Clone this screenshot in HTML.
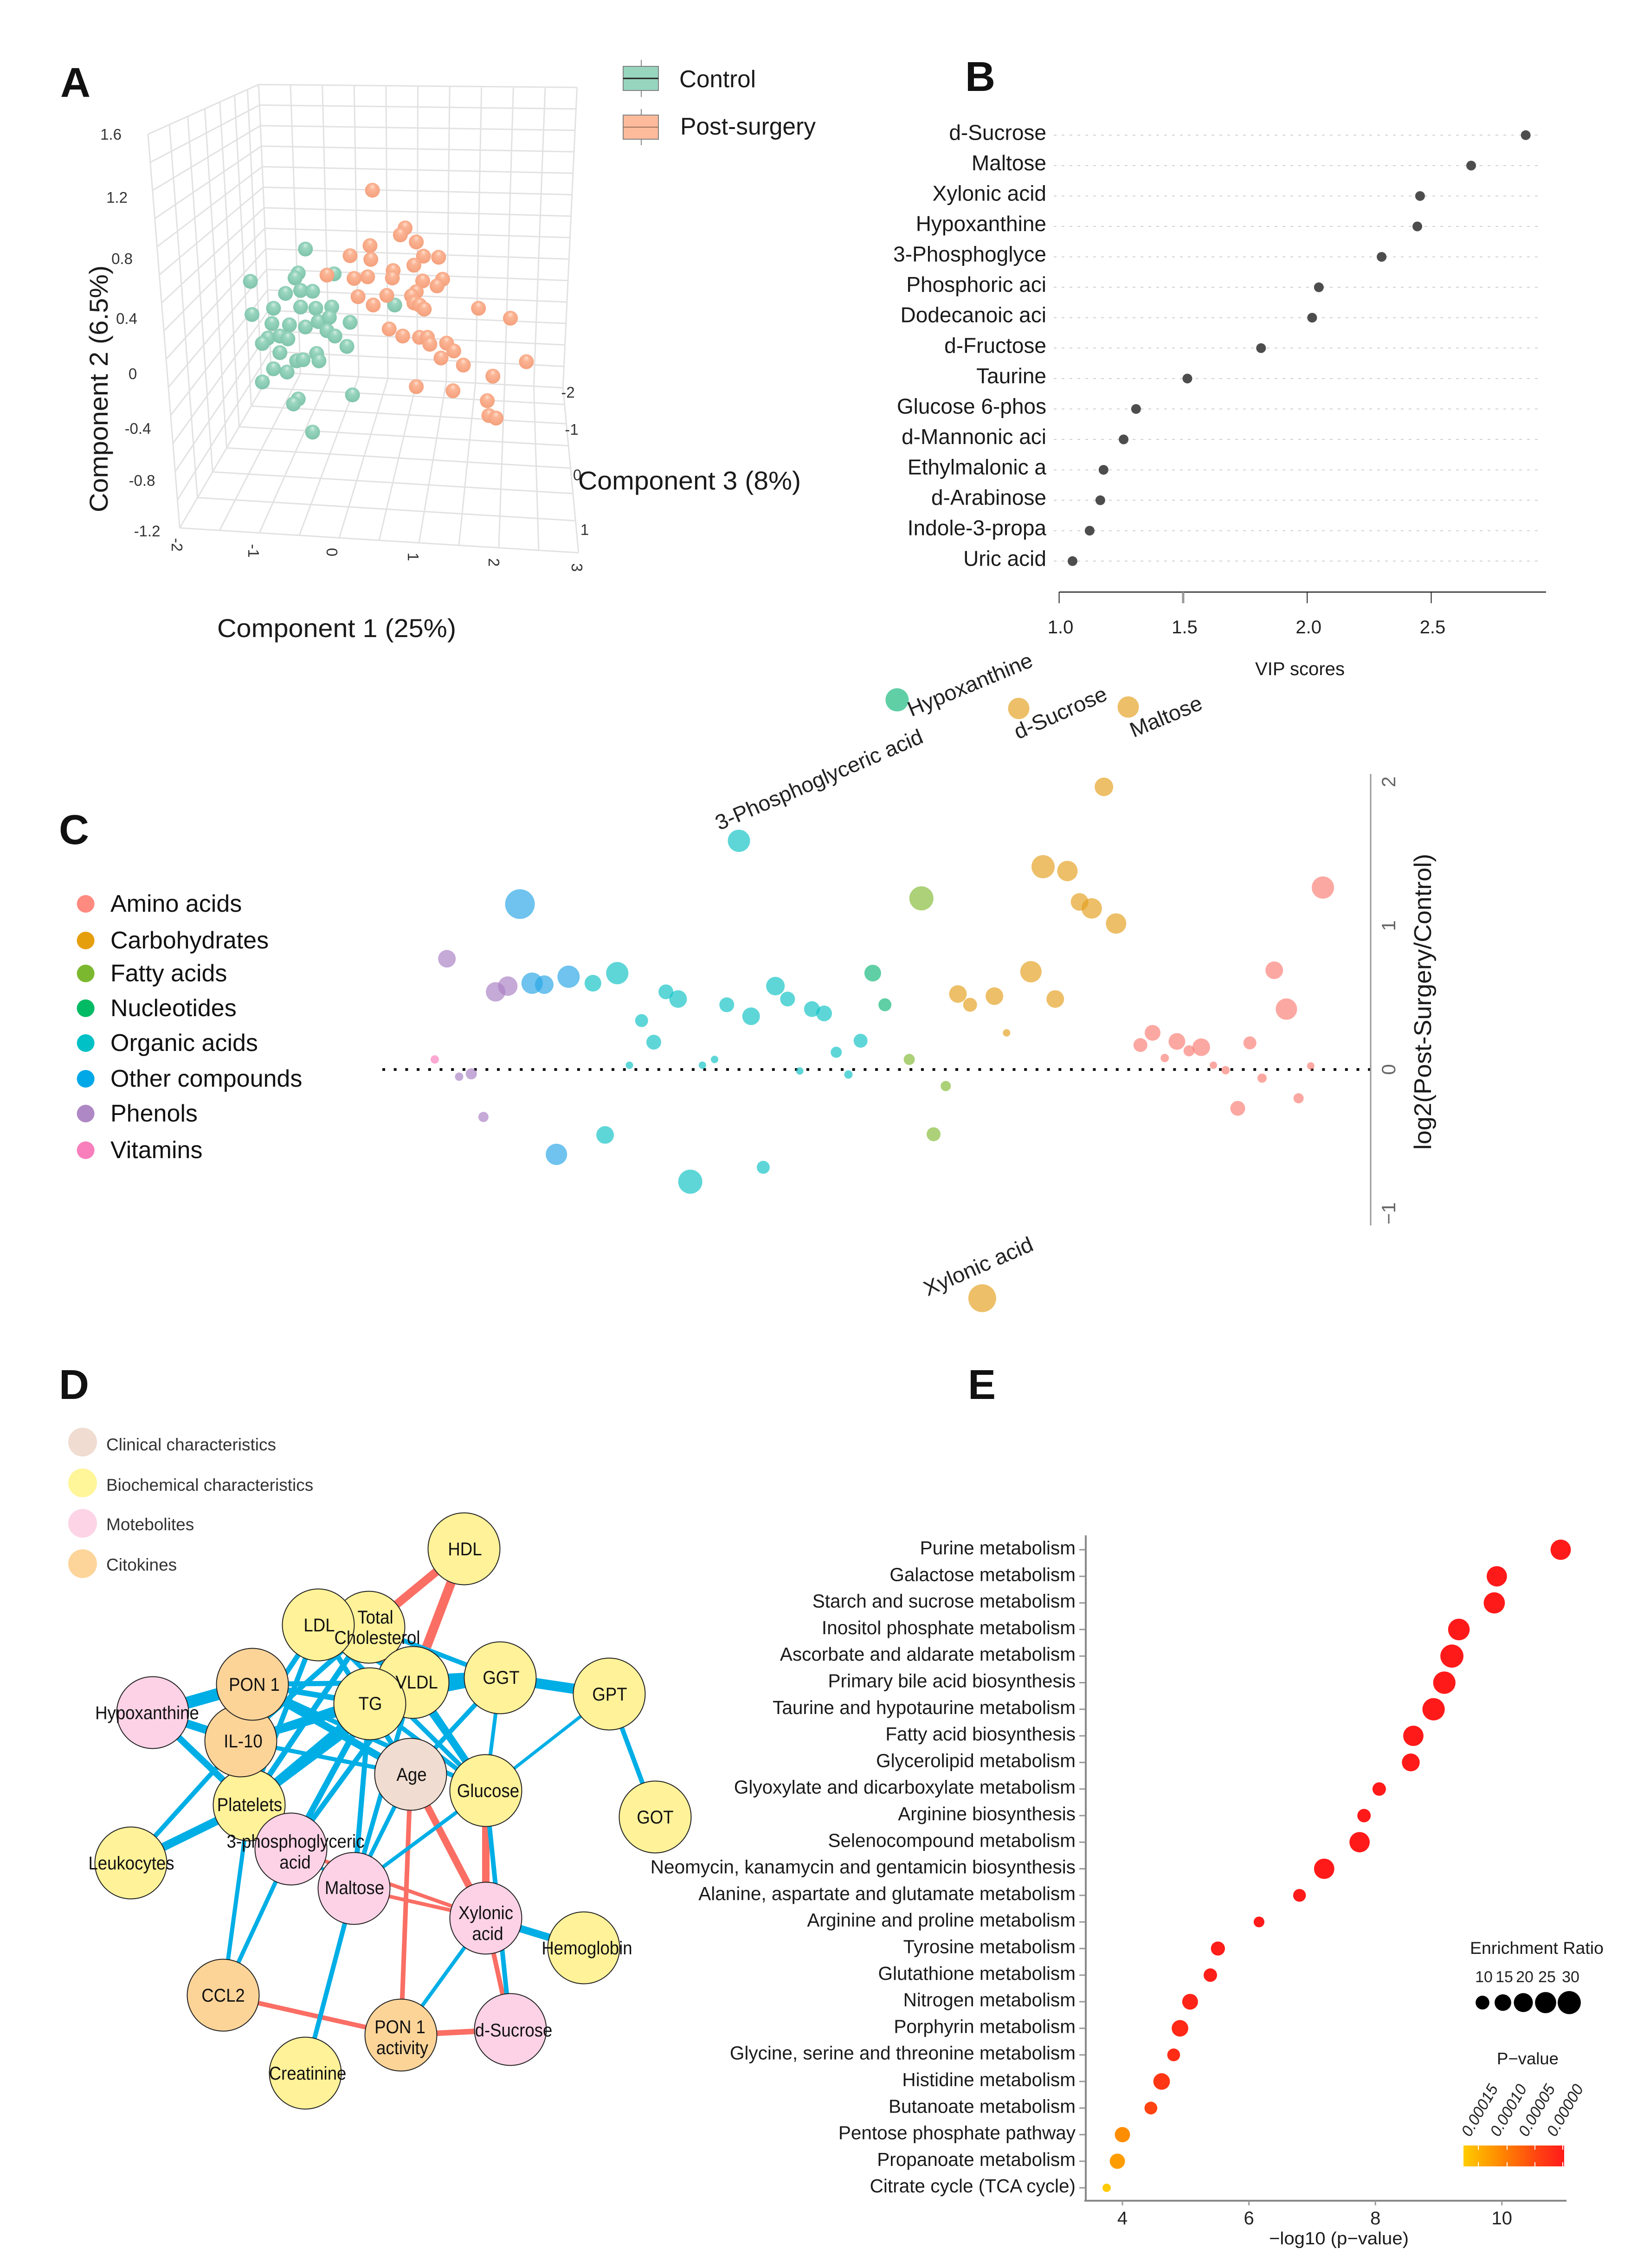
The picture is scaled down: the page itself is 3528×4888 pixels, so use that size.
<!DOCTYPE html>
<html lang="en">
<head>
<meta charset="utf-8">
<title>Metabolomics figure panels A-E</title>
<style>
html,body{margin:0;padding:0;background:#fff;}
svg{display:block;font-family:"Liberation Sans",sans-serif;fill:#1a1a1a;}
.pl{font-size:90px;font-weight:bold;fill:#111;}
.tk{font-size:33px;fill:#333;}
.nl{font-size:40px;text-anchor:middle;fill:#111;}
.node{stroke:#222;stroke-width:2;}
</style>
</head>
<body>
<svg id="fig" xmlns="http://www.w3.org/2000/svg" width="3528" height="4888" viewBox="0 0 3528 4888">
<defs>
<radialGradient id="sg" cx="50%" cy="48%" r="62%" fx="50%" fy="22%"><stop offset="0" stop-color="#d5eee3"/><stop offset=".3" stop-color="#9ad6c0"/><stop offset=".8" stop-color="#82c6ae"/><stop offset="1" stop-color="#75bba3"/></radialGradient>
<radialGradient id="so" cx="50%" cy="48%" r="62%" fx="50%" fy="22%"><stop offset="0" stop-color="#ffe0cf"/><stop offset=".3" stop-color="#fbb595"/><stop offset=".8" stop-color="#f6a380"/><stop offset="1" stop-color="#f09a74"/></radialGradient>
<linearGradient id="pbar" x1="0" x2="1" y1="0" y2="0"><stop offset="0" stop-color="#ffcc00"/><stop offset=".35" stop-color="#ff8c00"/><stop offset=".75" stop-color="#ff4112"/><stop offset="1" stop-color="#ff1a1a"/></linearGradient>
</defs>
<rect width="3528" height="4888" fill="#fff"/>

<!-- Panel A -->
<text class="pl" x="130" y="209">A</text>
<path id="grid3d" fill="none" stroke="#e2e2e2" stroke-width="3"/>
<g id="pcaPoints"></g>
<g>
<text class="tk" text-anchor="middle" x="239" y="301">1.6</text><text class="tk" text-anchor="middle" x="252" y="437">1.2</text><text class="tk" text-anchor="middle" x="263" y="569">0.8</text><text class="tk" text-anchor="middle" x="273" y="698">0.4</text><text class="tk" text-anchor="middle" x="286" y="817">0</text><text class="tk" text-anchor="middle" x="297" y="935">-0.4</text><text class="tk" text-anchor="middle" x="306" y="1047">-0.8</text><text class="tk" text-anchor="middle" x="317" y="1156">-1.2</text>
<text class="tk" text-anchor="middle" x="1224" y="857">-2</text><text class="tk" text-anchor="middle" x="1232" y="937">-1</text><text class="tk" text-anchor="middle" x="1244" y="1035">0</text><text class="tk" text-anchor="middle" x="1260" y="1153">1</text>
<text class="tk" text-anchor="middle" dy="12" transform="translate(382,1174) rotate(90)">-2</text><text class="tk" text-anchor="middle" dy="12" transform="translate(547,1187) rotate(90)">-1</text><text class="tk" text-anchor="middle" dy="12" transform="translate(716,1190) rotate(90)">0</text><text class="tk" text-anchor="middle" dy="12" transform="translate(891,1200) rotate(90)">1</text><text class="tk" text-anchor="middle" dy="12" transform="translate(1065,1212) rotate(90)">2</text><text class="tk" text-anchor="middle" dy="12" transform="translate(1244,1223) rotate(90)">3</text>
</g>
<text x="468" y="1373" font-size="56" textLength="515" lengthAdjust="spacingAndGlyphs">Component 1 (25%)</text>
<text x="1246" y="1055" font-size="56" textLength="480" lengthAdjust="spacingAndGlyphs">Component 3 (8%)</text>
<text transform="translate(232,1104) rotate(-90)" font-size="56" textLength="532" lengthAdjust="spacingAndGlyphs">Component 2 (6.5%)</text>
<g>
<line x1="1382" x2="1382" y1="129" y2="209" stroke="#888" stroke-width="2"/>
<rect x="1343" y="143" width="76" height="52" fill="#97d5be" stroke="#808080" stroke-width="2"/>
<line x1="1343" x2="1419" y1="169" y2="169" stroke="#222" stroke-width="3"/>
<text x="1464" y="188" font-size="52" textLength="165" lengthAdjust="spacingAndGlyphs">Control</text>
</g>
<g>
<line x1="1382" x2="1382" y1="235" y2="313" stroke="#888" stroke-width="2"/>
<rect x="1343" y="248" width="76" height="52" fill="#fdbb9c" stroke="#808080" stroke-width="2"/>
<line x1="1343" x2="1419" y1="274" y2="274" stroke="#9a6f5a" stroke-width="2"/>
<text x="1466" y="290" font-size="52" textLength="292" lengthAdjust="spacingAndGlyphs">Post-surgery</text>
</g>

<!-- Panel B -->
<text class="pl" x="2080" y="196">B</text>
<g id="vipRows"></g>
<line x1="2282.6" x2="3332" y1="1276" y2="1276" stroke="#222" stroke-width="2.5"/>
<g id="vipTicks"></g>
<text x="2705" y="1455" font-size="40" textLength="193" lengthAdjust="spacingAndGlyphs">VIP scores</text>

<!-- Panel C -->
<text class="pl" x="127" y="1819">C</text>
<g id="classLegend"></g>
<line x1="824" x2="2954" y1="2305" y2="2305" stroke="#111" stroke-width="6" stroke-dasharray="6 18.7"/>
<g id="bubbles"></g>
<line x1="2954" x2="2954" y1="1668" y2="2641" stroke="#999" stroke-width="3"/>
<g id="log2Ticks"></g>
<text transform="translate(3084,2478) rotate(-90)" font-size="52" textLength="638" lengthAdjust="spacingAndGlyphs">log2(Post-Surgery/Control)</text>
<g font-size="46" fill="#222">
<text transform="translate(1964,1545) rotate(-22.5)" textLength="287" lengthAdjust="spacingAndGlyphs">Hypoxanthine</text>
<text transform="translate(1550,1790) rotate(-23.3)" textLength="482" lengthAdjust="spacingAndGlyphs">3-Phosphoglyceric acid</text>
<text transform="translate(2194,1594) rotate(-24)" textLength="214" lengthAdjust="spacingAndGlyphs">d-Sucrose</text>
<text transform="translate(2443,1590) rotate(-22.5)" textLength="164" lengthAdjust="spacingAndGlyphs">Maltose</text>
<text transform="translate(1999,2794) rotate(-23.5)" textLength="252" lengthAdjust="spacingAndGlyphs">Xylonic acid</text>
</g>

<!-- Panel D -->
<text class="pl" x="127" y="3015">D</text>
<g font-size="37" fill="#333">
<circle cx="178" cy="3108" r="31" fill="#f0dcd0"/><text x="229" y="3126">Clinical characteristics</text>
<circle cx="178" cy="3196" r="31" fill="#fff599"/><text x="229" y="3213">Biochemical characteristics</text>
<circle cx="178" cy="3283" r="31" fill="#fdd4e6"/><text x="229" y="3298">Motebolites</text>
<circle cx="178" cy="3370" r="31" fill="#fdd49a"/><text x="229" y="3385">Citokines</text>
</g>
<g id="edges"></g>
<g id="nodes">
<circle class="node" id="HDL" cx="1000" cy="3338" r="77.5" fill="#fff299"/>
<circle class="node" id="Total" cx="795" cy="3507" r="77.5" fill="#fff299"/>
<circle class="node" id="LDL" cx="686" cy="3502" r="77.5" fill="#fff299"/>
<circle class="node" id="VLDL" cx="890" cy="3626" r="77.5" fill="#fff299"/>
<circle class="node" id="TG" cx="797" cy="3672" r="77.5" fill="#fff299"/>
<circle class="node" id="GGT" cx="1078" cy="3616" r="77.5" fill="#fff299"/>
<circle class="node" id="GPT" cx="1313" cy="3651" r="77.5" fill="#fff299"/>
<circle class="node" id="GOT" cx="1412" cy="3916" r="77.5" fill="#fff299"/>
<circle class="node" id="Glucose" cx="1047" cy="3859" r="77.5" fill="#fff299"/>
<circle class="node" id="Age" cx="885" cy="3824" r="77.5" fill="#f0dcd0"/>
<circle class="node" id="Leuko" cx="282" cy="4015" r="77.5" fill="#fff299"/>
<circle class="node" id="Hypox" cx="329" cy="3691" r="77.5" fill="#fdd2e6"/>
<circle class="node" id="Plate" cx="537" cy="3890" r="77.5" fill="#fff299"/>
<circle class="node" id="IL10" cx="519" cy="3752" r="77.5" fill="#fdd498"/>
<circle class="node" id="PON1" cx="544" cy="3630" r="77.5" fill="#fdd498"/>
<circle class="node" id="PGA" cx="627" cy="3985" r="77.5" fill="#fdd2e6"/>
<circle class="node" id="Malt" cx="763" cy="4070" r="77.5" fill="#fdd2e6"/>
<circle class="node" id="Xyl" cx="1047" cy="4134" r="77.5" fill="#fdd2e6"/>
<circle class="node" id="Hemo" cx="1258" cy="4198" r="77.5" fill="#fff299"/>
<circle class="node" id="CCL2" cx="481" cy="4300" r="77.5" fill="#fdd498"/>
<circle class="node" id="PONa" cx="864" cy="4386" r="77.5" fill="#fdd498"/>
<circle class="node" id="Sucr" cx="1100" cy="4374" r="77.5" fill="#fdd2e6"/>
<circle class="node" id="Creat" cx="658" cy="4468" r="77.5" fill="#fff299"/>
</g>
<g>
<text class="nl" x="1002" y="3352">HDL</text><text class="nl" x="688" y="3516">LDL</text><text class="nl" x="809" y="3499">Total</text><text class="nl" x="813" y="3543">Cholesterol</text><text class="nl" x="898" y="3639">VLDL</text><text class="nl" x="798" y="3685">TG</text><text class="nl" x="1080" y="3629">GGT</text><text class="nl" x="1314" y="3665">GPT</text><text class="nl" x="548" y="3644">PON 1</text><text class="nl" x="317" y="3705">Hypoxanthine</text><text class="nl" x="524" y="3766">IL-10</text><text class="nl" x="887" y="3838">Age</text><text class="nl" x="1052" y="3873">Glucose</text><text class="nl" x="1412" y="3930">GOT</text><text class="nl" x="538" y="3903">Platelets</text><text class="nl" x="283" y="4029">Leukocytes</text><text class="nl" x="637" y="3982">3-phosphoglyceric</text><text class="nl" x="636" y="4027">acid</text><text class="nl" x="764" y="4082">Maltose</text><text class="nl" x="1047" y="4136">Xylonic</text><text class="nl" x="1051" y="4181">acid</text><text class="nl" x="1265" y="4212">Hemoglobin</text><text class="nl" x="481" y="4314">CCL2</text><text class="nl" x="862" y="4382">PON 1</text><text class="nl" x="867" y="4427">activity</text><text class="nl" x="1107" y="4389">d-Sucrose</text><text class="nl" x="663" y="4482">Creatinine</text>
</g>

<!-- Panel E -->
<text class="pl" x="2086" y="3015">E</text>
<g id="pathways"></g>
<line x1="2340" x2="2340" y1="3309" y2="4743" stroke="#888" stroke-width="4"/>
<line x1="2337" x2="3376" y1="4743" y2="4743" stroke="#888" stroke-width="4"/>
<g id="pathTicks"></g>
<text x="2735" y="4837" font-size="38" textLength="301" lengthAdjust="spacingAndGlyphs">−log10 (p−value)</text>
<text x="3168" y="4211" font-size="37" textLength="288" lengthAdjust="spacingAndGlyphs">Enrichment Ratio</text>
<g id="sizeLegend"></g>
<text x="3226" y="4449" font-size="36" textLength="133" lengthAdjust="spacingAndGlyphs">P−value</text>
<g font-size="34" font-style="italic" fill="#222">
<text transform="translate(3168,4607) rotate(-60)">0.00015</text>
<text transform="translate(3230,4607) rotate(-60)">0.00010</text>
<text transform="translate(3291,4607) rotate(-60)">0.00005</text>
<text transform="translate(3352,4607) rotate(-60)">0.00000</text>
</g>
<rect x="3154" y="4624" width="217" height="45" fill="url(#pbar)"/>
<path d="M3186 4624v9M3186 4660v9M3248 4624v9M3248 4660v9M3308 4624v9M3308 4660v9M3368 4624v9M3368 4660v9" stroke="#fff" stroke-width="2"/>

<script>
// ---------- Panel A data ----------
const controlC1=[-0.41,-1.10,-1.08,-0.50,-0.54,-0.05,-0.66,-0.47,-0.32,-0.81,-0.47,-0.28,-0.08,-0.83,-0.61,-0.41,-0.25,-0.11,0.15,0.71,-0.88,-0.95,-0.73,-0.63,-0.14,-0.04,0.11,-0.73,-0.52,-0.44,-0.27,-0.24,-0.81,-0.64,-0.95,-0.50,-0.56,0.18,-0.32];
const controlC2=[0.877,0.649,0.415,0.708,0.673,0.702,0.564,0.585,0.579,0.459,0.468,0.459,0.468,0.351,0.342,0.327,0.365,0.395,0.360,0.482,0.249,0.211,0.263,0.243,0.301,0.263,0.190,0.146,0.088,0.096,0.140,0.088,0.032,0.009,-0.061,-0.181,-0.216,-0.152,-0.415];
const postC1=[0.43,0.84,0.78,0.98,0.40,0.15,0.41,1.07,1.26,0.95,0.69,0.68,-0.14,0.20,0.37,1.06,1.31,1.24,0.98,0.92,0.25,0.61,0.44,0.95,1.02,1.08,1.76,2.16,0.64,0.81,1.02,1.12,1.15,1.36,1.45,1.29,1.57,2.36,1.94,0.98,1.44,1.87,1.89,1.98];
const postC2=[1.292,1.026,0.977,0.927,0.901,0.830,0.804,0.827,0.819,0.763,0.725,0.673,0.693,0.670,0.681,0.652,0.664,0.617,0.576,0.547,0.541,0.550,0.482,0.497,0.482,0.453,0.459,0.389,0.313,0.263,0.254,0.254,0.205,0.213,0.158,0.108,0.058,0.082,-0.020,-0.094,-0.123,-0.193,-0.298,-0.316];
// ---------- Panel B data ----------
const vipNames=["d-Sucrose","Maltose","Xylonic acid","Hypoxanthine","3-Phosphoglyce","Phosphoric aci","Dodecanoic aci","d-Fructose","Taurine","Glucose 6-phos","d-Mannonic aci","Ethylmalonic a","d-Arabinose","Indole-3-propa","Uric acid"];
const vipValues=[2.881,2.661,2.455,2.444,2.30,2.047,2.02,1.814,1.517,1.31,1.26,1.179,1.166,1.123,1.054];
const vipTicks=[1.0,1.5,2.0,2.5];
const vipTickLabels=["1.0","1.5","2.0","2.5"];
// ---------- Panel C data (index = metabolite order along the x axis) ----------
const classNames=["Amino acids","Carbohydrates","Fatty acids","Nucleotides","Organic acids","Other compounds","Phenols","Vitamins"];
const metabClass=[7,6,6,6,6,6,6,5,5,5,5,5,null,4,4,4,4,4,4,4,4,4,4,4,4,4,4,4,4,4,4,4,4,4,4,4,3,3,3,2,2,2,2,1,1,1,1,1,1,1,1,1,1,1,1,1,1,1,0,0,0,0,0,0,0,0,0,0,0,0,0,0,0,0];
const metabLog2=[0.07,0.77,-0.05,-0.03,-0.33,0.54,0.58,1.15,0.60,0.59,-0.59,0.645,null,0.60,-0.455,0.67,0.03,0.34,0.19,0.54,0.49,-0.78,0.03,0.07,0.45,1.59,0.37,-0.68,0.58,0.49,-0.01,0.42,0.39,0.12,-0.035,0.20,0.67,0.45,2.57,0.07,1.19,-0.45,-0.115,0.525,0.45,-1.59,0.51,0.255,2.51,0.68,1.41,0.49,1.38,1.165,1.12,1.965,1.015,2.52,0.17,0.255,0.08,0.195,0.13,0.155,0.03,-0.005,-0.27,0.185,-0.06,0.69,0.42,-0.20,0.025,1.265];
const metabVip=[0.9,1.9,0.9,1.2,1.1,2.1,2.1,3.2,2.3,2.0,2.3,2.4,null,1.8,1.9,2.4,0.8,1.4,1.6,1.6,1.9,2.6,0.8,0.8,1.6,2.4,1.9,1.4,2.0,1.6,0.8,1.7,1.7,1.2,0.9,1.5,1.8,1.4,2.5,1.2,2.6,1.5,1.1,1.9,1.5,3.0,1.9,0.8,2.3,2.3,2.5,1.9,2.2,1.9,2.2,2.0,2.2,2.3,1.5,1.7,0.9,1.8,1.2,1.9,0.8,0.9,1.6,1.4,1.0,1.9,2.3,1.1,0.8,2.4];
const log2Ticks=[2,1,0,-1];
const log2TickLabels=["2","1","0","−1"];
// ---------- Panel D data ----------
const edgeFrom=["HDL","HDL","Age","Age","Glucose","PGA","Malt","Xyl","CCL2","PONa","Hypox","Hypox","Hypox","Leuko","Leuko","Plate","PGA","Malt","Xyl","Xyl","Glucose","GGT","GPT","GPT","GGT","GGT","GGT","GGT","PON1","PON1","PON1","PON1","IL10","IL10","IL10","IL10","IL10","Plate","Plate","Plate","Plate","PGA","PGA","LDL","LDL","LDL","Total","Total","VLDL","TG","Malt","Malt","Malt","Malt","PGA","PGA","IL10"];
const edgeTo=["VLDL","Total","Xyl","PONa","Xyl","Xyl","Xyl","Sucr","PONa","Sucr","PON1","IL10","Plate","Plate","IL10","CCL2","CCL2","Creat","PONa","Hemo","Sucr","GPT","Glucose","GOT","VLDL","Glucose","Age","TG","VLDL","TG","Age","Glucose","TG","VLDL","Age","LDL","Total","TG","VLDL","LDL","Total","TG","VLDL","Age","Glucose","VLDL","Glucose","GGT","Glucose","Glucose","TG","Age","VLDL","Glucose","Plate","Malt","PON1"];
const edgeWidth=[20,18,15,10,16,8,8,10,10,12,26,18,14,18,10,9,9,10,8,16,10,22,7,10,30,8,10,14,11,12,16,10,16,12,9,11,11,18,14,11,12,13,11,11,10,11,9,10,16,10,11,9,10,8,7,7,7];
const edgeSign=["pos","pos","pos","pos","pos","pos","pos","pos","pos","pos","neg","neg","neg","neg","neg","neg","neg","neg","neg","neg","neg","neg","neg","neg","neg","neg","neg","neg","neg","neg","neg","neg","neg","neg","neg","neg","neg","neg","neg","neg","neg","neg","neg","neg","neg","neg","neg","neg","neg","neg","neg","neg","neg","neg","neg","neg","neg"];
// ---------- Panel E data ----------
const pathwayNames=["Purine metabolism","Galactose metabolism","Starch and sucrose metabolism","Inositol phosphate metabolism","Ascorbate and aldarate metabolism","Primary bile acid biosynthesis","Taurine and hypotaurine metabolism","Fatty acid biosynthesis","Glycerolipid metabolism","Glyoxylate and dicarboxylate metabolism","Arginine biosynthesis","Selenocompound metabolism","Neomycin, kanamycin and gentamicin biosynthesis","Alanine, aspartate and glutamate metabolism","Arginine and proline metabolism","Tyrosine metabolism","Glutathione metabolism","Nitrogen metabolism","Porphyrin metabolism","Glycine, serine and threonine metabolism","Histidine metabolism","Butanoate metabolism","Pentose phosphate pathway","Propanoate metabolism","Citrate cycle (TCA cycle)"];
const pathwayLogP=[10.93,9.92,9.88,9.32,9.21,9.09,8.92,8.60,8.56,8.06,7.82,7.75,7.19,6.80,6.16,5.51,5.39,5.07,4.91,4.81,4.62,4.45,4.00,3.92,3.75];
const pathwayRatio=[23,23,25,26,30,28,28,23,17.5,9.5,9.5,23,23,8.5,5.7,10.5,9.5,13.5,15,8.5,15,8.5,12.5,12.5,3];
const pathTicks=[4,6,8,10];
const sizeLegendRatios=[10,15,20,25,30];

const NS='http://www.w3.org/2000/svg';
function make(parent,tag,attrs,text){
  const e=document.createElementNS(NS,tag);
  for(const k in attrs)e.setAttribute(k,attrs[k]);
  if(text!==undefined)e.textContent=text;
  parent.appendChild(e);
  return e;
}
const $=id=>document.getElementById(id);

// ---- Panel A ----
const pcaX=v=>728.7+171.9*v;
const pcaY=v=>804.6-305.4*v;
(function grid(){
  const P=(x,y)=>[100+1.084*x,50+0.893*y];
  const lerp=(a,b,t)=>[a[0]+(b[0]-a[0])*t,a[1]+(b[1]-a[1])*t];
  const TL=P(422,148),TR=P(1055,155),BR=P(1027,880),BL=P(447,842),FTL=P(202,268),FBL=P(265,1218),FBR=P(1058,1278);
  const depth=[0,.101,.218,.351,.487,.641,.806,1];
  let d='';
  const seg=(a,b)=>{d+='M'+a[0].toFixed(1)+' '+a[1].toFixed(1)+'L'+b[0].toFixed(1)+' '+b[1].toFixed(1);};
  for(let i=0;i<=10;i++){const t=i/10;seg(lerp(TL,TR,t),lerp(BL,BR,t));seg(lerp(BL,BR,t),lerp(FBL,FBR,t));}
  for(let j=0;j<=14;j++){const t=j/14;seg(lerp(TL,BL,t),lerp(TR,BR,t));seg(lerp(TL,BL,t),lerp(FTL,FBL,t));}
  depth.forEach(f=>{seg(lerp(TL,FTL,f),lerp(BL,FBL,f));seg(lerp(BL,FBL,f),lerp(BR,FBR,f));});
  $('grid3d').setAttribute('d',d);
})();
controlC1.forEach((v,i)=>{
  const c=make($('pcaPoints'),'circle',{cx:pcaX(v),cy:pcaY(controlC2[i]),r:16,fill:'url(#sg)'});
  
  
});
postC1.forEach((v,i)=>{
  const c=make($('pcaPoints'),'circle',{cx:pcaX(v),cy:pcaY(postC2[i]),r:16,fill:'url(#so)'});
  
  
});

// ---- Panel B ----
const vipX=v=>2282.6+(v-1)*534.6;
const vipY=i=>291.3+65.57*i;
vipNames.forEach((n,i)=>{
  const y=vipY(i);
  const l=make($('vipRows'),'line',{x1:2271,x2:3320,y1:y,y2:y,stroke:'#cfcfcf','stroke-width':2,'stroke-dasharray':'6 11'});
  
  
  const t=make($('vipRows'),'text',{x:2255,y:y+10,'font-size':46,'text-anchor':'end',fill:'#1a1a1a'},n);
  
  
  const c=make($('vipRows'),'circle',{cx:vipX(vipValues[i]),cy:y,r:10.5,fill:'#4d4d4d'});
  
  
});
vipTicks.forEach((v,i)=>{
  const x=vipX(v);
  const l=make($('vipTicks'),'line',{x1:x,x2:x,y1:1276,y2:1300,stroke:i==1?'#999':'#222','stroke-width':i==1?5:2});
  
  
  const t=make($('vipTicks'),'text',{x:x+3,y:1365,'font-size':40,'text-anchor':'middle',fill:'#222'},vipTickLabels[i]);
  
  
});

// ---- Panel C ----
const classColors=['#fb7f76','#e5a020','#84bb38','#14b87a','#12c2c6','#2ba6e6','#a980c4','#fb7fbe'];
const legendSolid=['#fe8a80','#e69f0c','#7cb82f','#00ba64','#00c1c6','#00a8e8','#ae88c4','#f87fbc'];
const legendYs=[1948,2027,2098,2173,2248,2325,2400,2479];
classNames.forEach((n,i)=>{
  const c=make($('classLegend'),'circle',{cx:184.6,cy:legendYs[i],r:19,fill:legendSolid[i]});
  
  
  const t=make($('classLegend'),'text',{x:238,y:legendYs[i]+17,'font-size':52,fill:'#111'},n);
  
  
});
const metabX=i=>937+26.22*i;
const log2Y=v=>2305-310*v;
metabLog2.forEach((v,i)=>{
  if(v===null)return;
  const c=make($('bubbles'),'circle',{cx:metabX(i),cy:log2Y(v),r:metabVip[i]*10,fill:classColors[metabClass[i]],'fill-opacity':0.68});
  
  
});
log2Ticks.forEach((v,i)=>{
  const t=make($('log2Ticks'),'text',{transform:'translate(3007,'+log2Y(v)+') rotate(-90)','font-size':42,'text-anchor':'middle',fill:'#666'},log2TickLabels[i]);
  
  
});

// ---- Panel D ----
edgeFrom.forEach((a,i)=>{
  const A=$(a),B=$(edgeTo[i]);
  const l=make($('edges'),'line',{x1:A.getAttribute('cx'),y1:A.getAttribute('cy'),x2:B.getAttribute('cx'),y2:B.getAttribute('cy'),stroke:edgeSign[i]=='pos'?'#fa6e64':'#00aee6','stroke-width':edgeWidth[i]});
  
  
});
document.querySelectorAll('.nl').forEach(t=>{
  t.setAttribute('textLength',(t.getComputedTextLength()*0.915).toFixed(1));
  t.setAttribute('lengthAdjust','spacingAndGlyphs');
});

// ---- Panel E ----
const pathX=v=>2419+(v-4)*136.3;
const pathY=i=>3340+57.3*i;
const ratioR=e=>Math.sqrt(20+20*e);
function pColor(logp){
  const t=Math.min(1,Math.pow(10,-logp)/1.8e-4);
  const g=t<.55?26+(140-26)*t/.55:140+(204-140)*(t-.55)/.45;
  const b=t<.55?26*(1-t/.55):0;
  return 'rgb(255,'+Math.round(g)+','+Math.round(b)+')';
}
pathwayNames.forEach((n,i)=>{
  const y=pathY(i);
  const t=make($('pathways'),'text',{x:2318,y:y+10,'font-size':40.5,'text-anchor':'end',fill:'#1a1a1a'},n);
  
  
  const k=make($('pathways'),'line',{x1:2326,x2:2338,y1:y,y2:y,stroke:'#999','stroke-width':3});
  
  
  const c=make($('pathways'),'circle',{cx:pathX(pathwayLogP[i]),cy:y,r:ratioR(pathwayRatio[i]),fill:pColor(pathwayLogP[i])});
  
  
});
pathTicks.forEach(v=>{
  const x=pathX(v);
  const k=make($('pathTicks'),'line',{x1:x,x2:x,y1:4743,y2:4753,stroke:'#999','stroke-width':3});
  
  
  const t=make($('pathTicks'),'text',{x:x,y:4794,'font-size':40,'text-anchor':'middle',fill:'#222'},String(v));
  
  
});
sizeLegendRatios.forEach((e,i)=>{
  const x=3195+(i*44)+(i>2?(i-2)*4:0)+(i>3?3:0);
  const c=make($('sizeLegend'),'circle',{cx:x,cy:4316,r:ratioR(e),fill:'#000'});
  
  
  const t=make($('sizeLegend'),'text',{x:x+3,y:4272,'font-size':34,'text-anchor':'middle',fill:'#222'},String(e));
  
  
});
</script>
</svg>
</body>
</html>
